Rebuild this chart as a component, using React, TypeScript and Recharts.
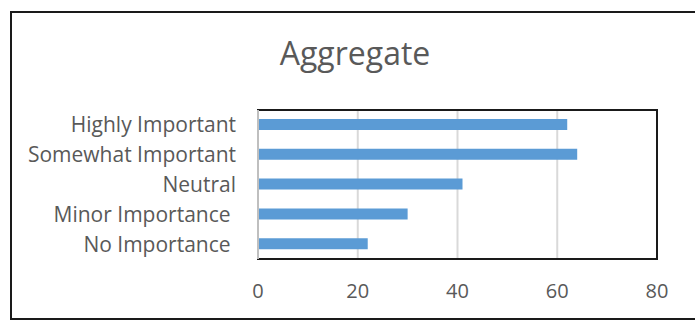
import { BarChart, Bar, XAxis, YAxis, CartesianGrid, ReferenceArea } from 'recharts';

const categories = ['Highly Important', 'Somewhat Important', 'Neutral', 'Minor Importance\u00a0', 'No Importance\u00a0'];
const values = [62, 64, 41, 30, 22];
const xTicks = [0, 20, 40, 60, 80];

const data = categories.map((name, i) => ({ name, value: values[i] }));

const FONT = '"Open Sans", sans-serif';
const GREY = '#595959';

export default function App() {
  return (
    <div style={{ position: 'absolute', left: 10, top: 11, width: 700, height: 309, border: '2px solid #1a1a1a', boxSizing: 'border-box', background: '#fff' }}>
      <div style={{ position: 'absolute', left: 0, width: 686, top: 20, textAlign: 'center', fontFamily: FONT, fontSize: 32, color: GREY, lineHeight: '40px' }}>
        Aggregate
      </div>
      <BarChart
        width={686}
        height={305}
        data={data}
        layout="vertical"
        margin={{ top: 97, right: 41, left: 0, bottom: 9 }}
        style={{ fontFamily: FONT }}
      >
        <CartesianGrid horizontal={false} stroke="#d9d9d9" strokeWidth={2} />
        <ReferenceArea x1={0} x2={80} fill="none" stroke="#1a1a1a" strokeWidth={2} fillOpacity={0} />
        <XAxis
          type="number"
          domain={[0, 80]}
          ticks={xTicks}
          axisLine={false}
          tickLine={false}
          tickMargin={19}
          height={50}
          tick={{ fill: GREY, fontSize: 20 }}
        />
        <YAxis
          type="category"
          dataKey="name"
          width={246}
          interval={0}
          axisLine={{ stroke: '#bfbfbf', strokeWidth: 2 }}
          tickLine={false}
          tickMargin={16}
          tick={{ fill: GREY, fontSize: 21 }}
        />
        <Bar dataKey="value" fill="#5b9bd5" barSize={11} isAnimationActive={false} />
      </BarChart>
    </div>
  );
}
